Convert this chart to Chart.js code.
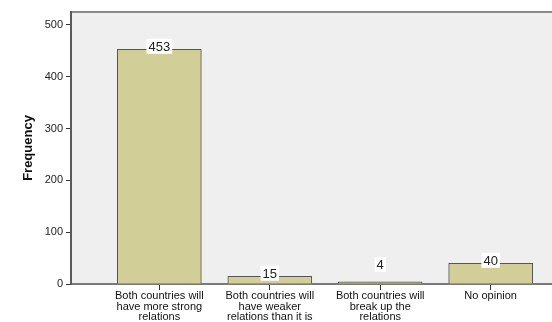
<!DOCTYPE html>
<html>
<head>
<meta charset="utf-8">
<script src="https://cdn.jsdelivr.net/npm/chart.js@4"></script>
<style>
  html, body { margin: 0; padding: 0; background: #fff; overflow: hidden; }
  #wrap { width: 600px; height: 322px; }
</style>
</head>
<body>
<div id="wrap"><canvas id="freqChart" width="600" height="322"></canvas></div>
<script>
const categories = [
  ['Both countries will', 'have more strong', 'relations'],
  ['Both countries will', 'have weaker', 'relations than it is', 'now'],
  ['Both countries will', 'break up the', 'relations'],
  ['No opinion']
];
const frequency = [453, 15, 4, 40];
const yTicks = [0, 100, 200, 300, 400, 500];

const FONT = '"Liberation Sans", Arial, sans-serif';

// grey plot background + top border, like SPSS output
const plotBg = {
  id: 'plotBg',
  beforeDraw(chart) {
    const { ctx, chartArea: a } = chart;
    ctx.save();
    ctx.fillStyle = '#efefef';
    ctx.fillRect(a.left, a.top, a.right - a.left, a.bottom - a.top);
    ctx.strokeStyle = '#8a8a8a';
    ctx.lineWidth = 2;
    ctx.beginPath();
    ctx.moveTo(a.left, a.top);
    ctx.lineTo(a.right + 30, a.top);
    ctx.stroke();
    ctx.restore();
  },
  afterDraw(chart) {
    const { ctx, chartArea: a } = chart;
    ctx.save();
    ctx.translate(28, (a.top + a.bottom) / 2);
    ctx.rotate(-Math.PI / 2);
    ctx.font = 'bold 13px ' + FONT;
    ctx.fillStyle = '#111';
    ctx.textAlign = 'center';
    ctx.textBaseline = 'middle';
    ctx.fillText('Frequency', 0, 0);
    ctx.restore();
  }
};

// value boxes on top of each bar
const valueLabels = {
  id: 'valueLabels',
  afterDatasetsDraw(chart) {
    const { ctx } = chart;
    const meta = chart.getDatasetMeta(0);
    ctx.save();
    ctx.font = '13px ' + FONT;
    ctx.textAlign = 'center';
    ctx.textBaseline = 'middle';
    meta.data.forEach((bar, i) => {
      const txt = String(frequency[i]);
      const h = bar.base - bar.y;
      const y = h < 5 ? bar.base - 19 : bar.y - 3;
      const w = ctx.measureText(txt).width + 4;
      ctx.fillStyle = '#fff';
      ctx.fillRect(bar.x - w / 2, y - 7.5, w, 15);
      ctx.fillStyle = '#222';
      ctx.fillText(txt, bar.x, y + 1);
    });
    ctx.restore();
  }
};

new Chart(document.getElementById('freqChart').getContext('2d'), {
  type: 'bar',
  data: {
    datasets: [{
      data: frequency.map((v, i) => ({ x: i, y: v })),
      backgroundColor: '#d2ce98',
      borderColor: '#555',
      borderWidth: 1,
      barThickness: 84
    }]
  },
  options: {
    responsive: false,
    animation: false,
    layout: { padding: { top: 12, right: 21, left: 0, bottom: 0 } },
    plugins: { legend: { display: false }, tooltip: { enabled: false } },
    scales: {
      x: {
        type: 'linear',
        offset: false,
        min: -0.8,
        max: 3.8,
        afterBuildTicks: s => { s.ticks = categories.map((c, i) => ({ value: i })); },
        afterFit: s => { s.height = 38; },
        grid: { drawOnChartArea: false, offset: false, tickLength: 6, color: '#333' },
        border: { color: '#7a7a7a', width: 2 },
        ticks: {
          autoSkip: false,
          maxRotation: 0,
          padding: 1,
          color: '#111',
          font: { family: FONT, size: 11, lineHeight: 0.95 },
          callback: v => categories[v]
        }
      },
      y: {
        min: 0,
        max: 525,
        afterBuildTicks: s => { s.ticks = yTicks.map(v => ({ value: v })); },
        afterFit: s => { s.width = 71; },
        grid: { drawOnChartArea: false, tickLength: 5, color: '#333' },
        border: { color: '#5a5a5a', width: 2 },
        ticks: {
          padding: 3,
          color: '#222',
          font: { family: FONT, size: 11 }
        }
      }
    }
  },
  plugins: [plotBg, valueLabels]
});
</script>
</body>
</html>
